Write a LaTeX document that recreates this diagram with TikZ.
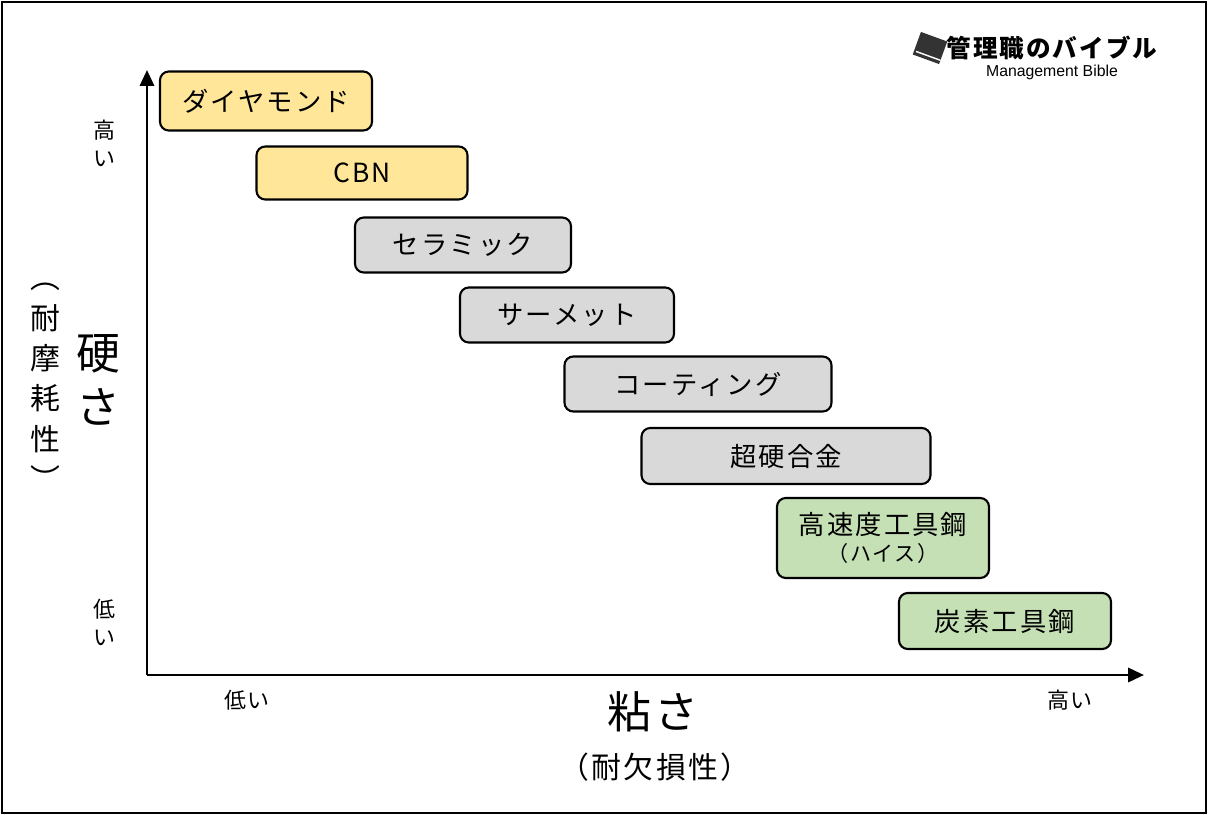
\documentclass[tikz,border=0pt]{standalone}
\usepackage{fontspec}
\setmainfont{Noto Sans CJK JP}[LetterSpace=8]
\newfontfamily\latin{Liberation Sans}
\usetikzlibrary{arrows.meta}
\definecolor{hardY}{HTML}{FFE699}
\definecolor{midG}{HTML}{D9D9D9}
\definecolor{softG}{HTML}{C5E0B4}
\tikzset{
  tool/.style={draw, line width=1.2pt, rounded corners=5pt, inner sep=0pt, font=\fontsize{15}{17}\selectfont},
  axis/.style={line width=1.6pt, -{Triangle[length=9pt,width=8pt]}},
  small/.style={font=\fontsize{12.5}{16}\selectfont, align=center},
}
\begin{document}
\begin{tikzpicture}[x=0.02cm,y=-0.02cm]
  \useasboundingbox (0,0) rectangle (1208,815);
  \draw[line width=1pt] (2,2) rectangle (1206,813);
  %axes
  \coordinate (O) at (147,675);
  \coordinate (Ytop) at (147,70);
  \coordinate (Xend) at (1144,675);
  \draw[axis] (O) -- (Ytop);
  \draw[axis] (O) -- (Xend);
  %tools
  \node[tool, fill=hardY, minimum width=212*0.02cm, minimum height=59*0.02cm] (dia) at (266,101) {ダイヤモンド};
  \node[tool, fill=hardY, minimum width=211*0.02cm, minimum height=53*0.02cm] (cbn) at (362,173) {CBN};
  \node[tool, fill=midG, minimum width=216*0.02cm, minimum height=55*0.02cm] (cer) at (463,245) {セラミック};
  \node[tool, fill=midG, minimum width=214*0.02cm, minimum height=55*0.02cm] (cmt) at (567,315) {サーメット};
  \node[tool, fill=midG, minimum width=267*0.02cm, minimum height=55*0.02cm] (coat) at (698,384) {コーティング};
  \node[tool, fill=midG, minimum width=289*0.02cm, minimum height=56*0.02cm] (cbd) at (786,456) {超硬合金};
  \node[tool, fill=softG, minimum width=212*0.02cm, minimum height=80*0.02cm, align=center] (hss) at (883,538) {高速度工具鋼\\[-2pt]{\fontsize{12}{14}\selectfont （ハイス）}};
  \node[tool, fill=softG, minimum width=212*0.02cm, minimum height=56*0.02cm] (cts) at (1005,621) {炭素工具鋼};
  %axis labels
  \node[small] (yhi) at (104,143) {高\\い};
  \node[small] (ylo) at (104,622) {低\\い};
  \node[small] (xlo) at (247,700) {低い};
  \node[small] (xhi) at (1070,700) {高い};
  \node[font=\fontsize{25}{27}\selectfont] (xlab) at (653,712) {粘さ};
  \node[font=\fontsize{17}{19}\selectfont] (xsub) at (655,767) {（耐欠損性）};
  \node[font=\fontsize{25}{31}\selectfont, align=center] (ylab) at (98,380) {硬\\さ};
  \node[font=\fontsize{17}{23}\selectfont, align=center] (ysub) at (45,387) {︵\\耐\\摩\\耗\\性\\︶};
  %logo
  \node[font=\bfseries\fontsize{14}{16}\selectfont] (logo) at (1052,48) {管理職のバイブル};
  \node[font=\latin\fontsize{9}{10}\selectfont] (logosub) at (1052,72) {Management Bible};
  \fill[black!80, rotate around={-20:(930,48)}] (916,36) rectangle (944,60);
  \draw[white, line width=0.8pt, rotate around={-20:(930,48)}] (918,56) -- (944,56);
\end{tikzpicture}
\end{document}
